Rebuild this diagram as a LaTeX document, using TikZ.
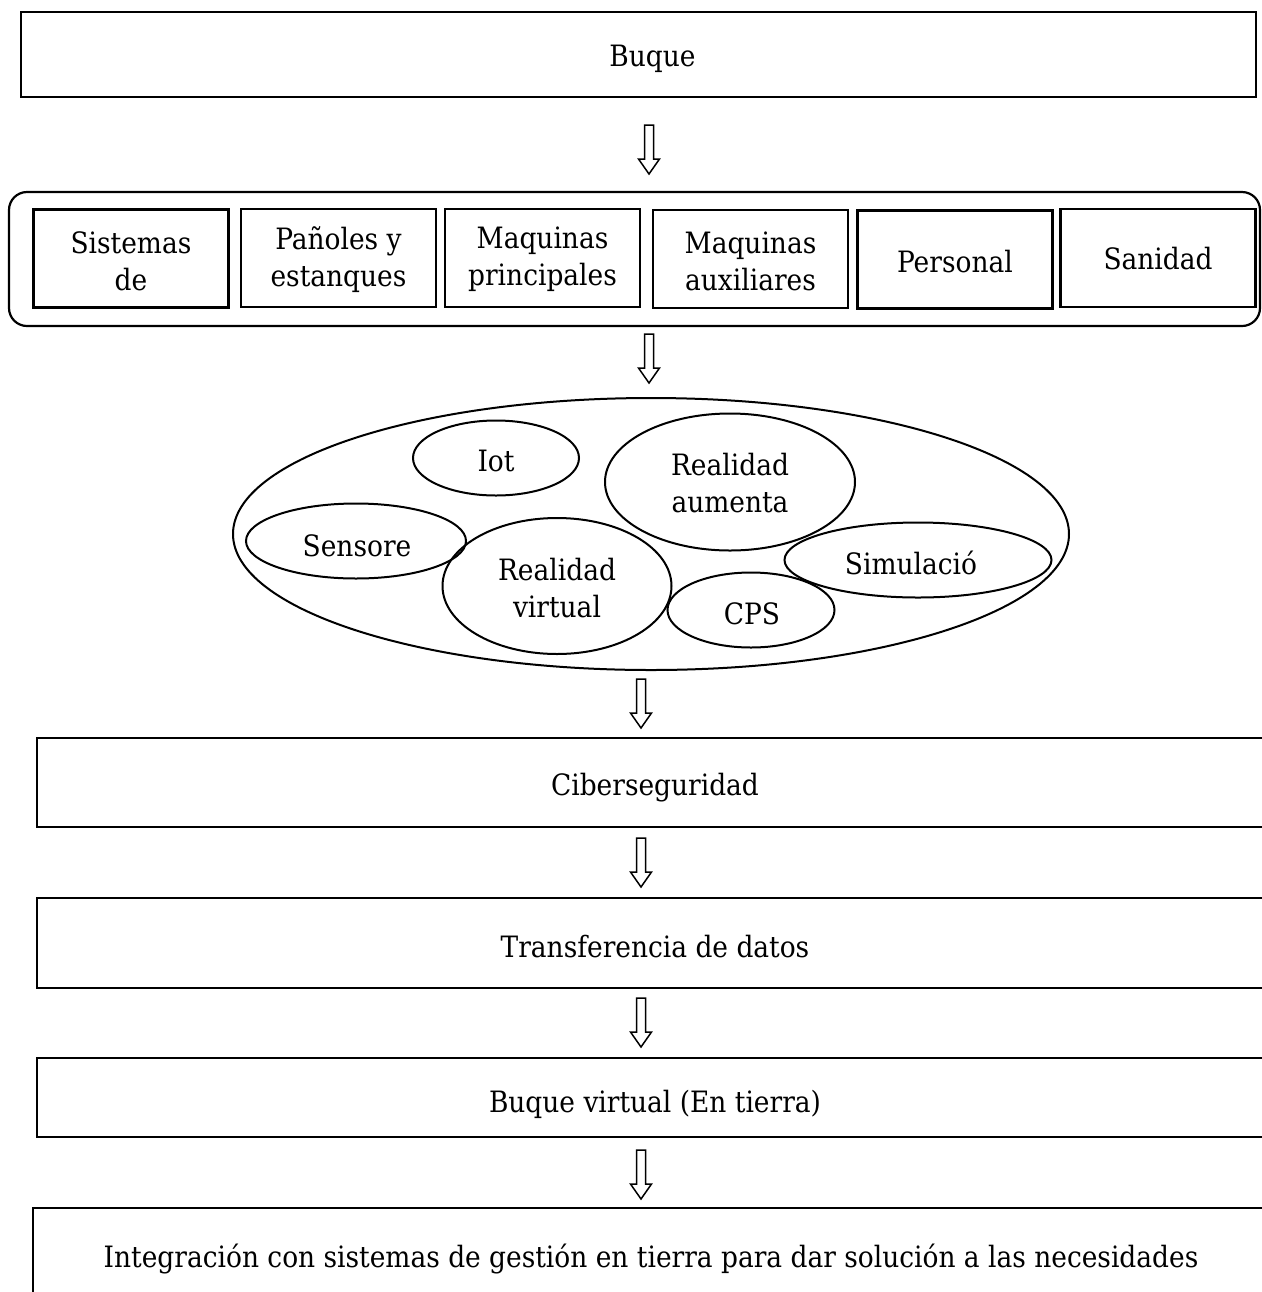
\documentclass[tikz,border=0pt]{standalone}
\usepackage{fontspec}
\setmainfont{DejaVu Serif Condensed}
\usetikzlibrary{shapes.geometric,calc}
\newcommand{\hollowdown}[3]{%
  \coordinate (#1) at (#2,#3);
  \draw[hollowarrow] ($(#1)+(-4.5,0)$) -- ($(#1)+(-4.5,34)$) -- ($(#1)+(-10.5,34)$) -- ($(#1)+(0,49)$) -- ($(#1)+(10.5,34)$) -- ($(#1)+(4.5,34)$) -- ($(#1)+(4.5,0)$) -- cycle;}
\begin{document}
\begin{tikzpicture}[x=0.5pt,y=-0.5pt,
  every node/.style={inner sep=0pt, outer sep=0pt},
  txt/.style={font=\fontsize{14.7pt}{18.5pt}\selectfont, align=center},
  widebox/.style={draw, line width=1.4pt, rectangle, minimum width=618pt},
  itembox/.style={draw, line width=1.2pt, rectangle, minimum width=97.5pt, minimum height=49pt},
  groupbox/.style={draw, line width=1.1pt, rectangle, rounded corners=9pt, minimum width=625.5pt, minimum height=67pt},
  oval/.style={draw, line width=1pt, ellipse},
  hollowarrow/.style={draw, line width=0.75pt, line join=miter, fill=white}
]
\useasboundingbox (0,0) rectangle (1262,1292);
\clip (0,0) rectangle (1262,1292);

% top box
\node[widebox, minimum width=617.5pt, minimum height=42.5pt] (buque) at (638.5,54.5) {};
\node[txt] (buque-t) at ($(buque)+(14,4)$) {Buque};
\hollowdown{a1}{649}{125}

% group of systems
\node[groupbox] (group) at (634.5,259) {};
\node[itembox] (sis) at (131,258.5) {};
\node[itembox] (pan) at (338.5,258) {};
\node[itembox] (mp) at (542.5,258) {};
\node[itembox] (ma) at (750.5,259) {};
\node[itembox] (per) at (955,259.5) {};
\node[itembox] (san) at (1158,258) {};
\node[txt] (sis-t) at ($(sis)+(0,3)$) {Sistemas\\de};
\node[txt] (pan-t) at ($(pan)+(0,2)$) {Pañoles y\\estanques};
\node[txt] (mp-t) at ($(mp)+(0,1)$) {Maquinas\\principales};
\node[txt] (ma-t) at ($(ma)+(0,2.5)$) {Maquinas\\auxiliares};
\node[txt] (per-t) at ($(per)+(0,2)$) {Personal};
\node[txt] (san-t) at ($(san)+(0,1)$) {Sanidad};
\hollowdown{a2}{649}{334}

% technologies
\node[oval, minimum width=418pt, minimum height=136pt] (tech) at (651,534) {};
\node[oval, minimum width=83pt, minimum height=37.5pt] (iot) at (496,458) {};
\node[oval, minimum width=110pt, minimum height=37.5pt] (sen) at (356,541) {};
\node[oval, minimum width=114.5pt, minimum height=68pt] (rv) at (557,586) {};
\node[oval, minimum width=125pt, minimum height=68.5pt] (ra) at (730,482) {};
\node[oval, minimum width=133.5pt, minimum height=37.5pt] (sim) at (918,560) {};
\node[oval, minimum width=83.5pt, minimum height=37.5pt] (cps) at (751,610) {};
\node[txt] (iot-t) at ($(iot)+(0,3)$) {Iot};
\node[txt] (sen-t) at ($(sen)+(1,5)$) {Sensore};
\node[txt] (rv-t) at ($(rv)+(0,2)$) {Realidad\\virtual};
\node[txt] (ra-t) at ($(ra)+(0,1)$) {Realidad\\aumenta};
\node[txt] (sim-t) at ($(sim)+(-7,3)$) {Simulació};
\node[txt] (cps-t) at ($(cps)+(1,4)$) {CPS};
\hollowdown{a3}{641}{679}

% lower chain
\node[widebox, minimum height=44.5pt] (ciber) at (655,782.5) {};
\node[txt] (ciber-t) at ($(ciber)+(0,5)$) {Ciberseguridad};
\hollowdown{a4}{641}{838}
\node[widebox, minimum height=45pt] (trans) at (655,943) {};
\node[txt] (trans-t) at ($(trans)+(0,4)$) {Transferencia de datos};
\hollowdown{a5}{641}{998}
\node[widebox, minimum height=39.5pt] (bv) at (655,1097.5) {};
\node[txt] (bv-t) at ($(bv)+(0,7)$) {Buque virtual (En tierra)};
\hollowdown{a6}{641}{1150}
\node[widebox, minimum width=620pt, minimum height=49pt] (integ) at (653,1257) {};
\node[txt] (integ-t) at ($(integ)+(-2,2)$) {Integración con sistemas de gestión en tierra para dar solución a las necesidades};
\end{tikzpicture}
\end{document}
